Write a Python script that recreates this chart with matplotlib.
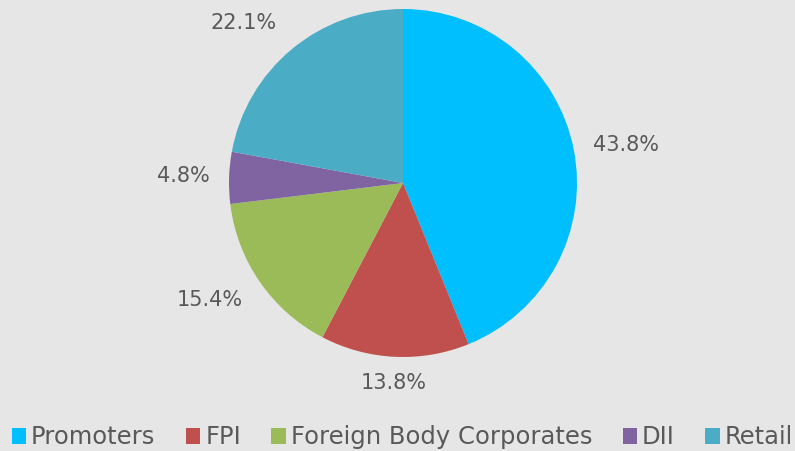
import numpy as np
import matplotlib.pyplot as plt

labels = ['Promoters', 'FPI', 'Foreign Body Corporates', 'DII', 'Retail']
shares = [43.8, 13.8, 15.4, 4.8, 22.1]
colors = ['#00BFFF', '#C0504D', '#9BBB59', '#8064A2', '#4BACC6']
# how far out each value label sits (in pie radii) and a small angular nudge (deg)
label_dist = [1.30, 1.15, 1.30, 1.26, 1.30]
label_nudge = [-1.5, 0, -3.5, 0, 5]

bg = '#E6E6E6'
txt = '#595959'

fig = plt.figure(figsize=(7.95, 4.51), dpi=100)
fig.patch.set_facecolor(bg)

# centre the pie at about (403,183) px, radius 174 px
W, H = 795, 451
cx, cy, r = 403, 183, 174
ax = fig.add_axes([(cx - r) / W, (H - cy - r) / H, 2 * r / W, 2 * r / H])
ax.set_facecolor(bg)

wedges, texts = ax.pie(shares, colors=colors, startangle=90, counterclock=False,
                       wedgeprops=dict(linewidth=0))
for w, v, d, n in zip(wedges, shares, label_dist, label_nudge):
    ang = np.deg2rad((w.theta1 + w.theta2) / 2 + n)
    ax.text(d * np.cos(ang), d * np.sin(ang), '%.1f%%' % v, ha='center', va='center',
            color=txt, fontsize=15, clip_on=False)
ax.set_xlim(-1, 1)
ax.set_ylim(-1, 1)
ax.set_aspect('equal')
ax.axis('off')

leg = fig.legend(wedges, labels, loc='center', ncol=5, frameon=False,
                 bbox_to_anchor=(0.506, 0.03), fontsize=17.5, handlelength=0.6, handleheight=0.6,
                 handletextpad=0.2, columnspacing=1.25, labelcolor=txt,
                 borderpad=0, borderaxespad=0)

fig.savefig('out.png', dpi=100, facecolor=bg)
